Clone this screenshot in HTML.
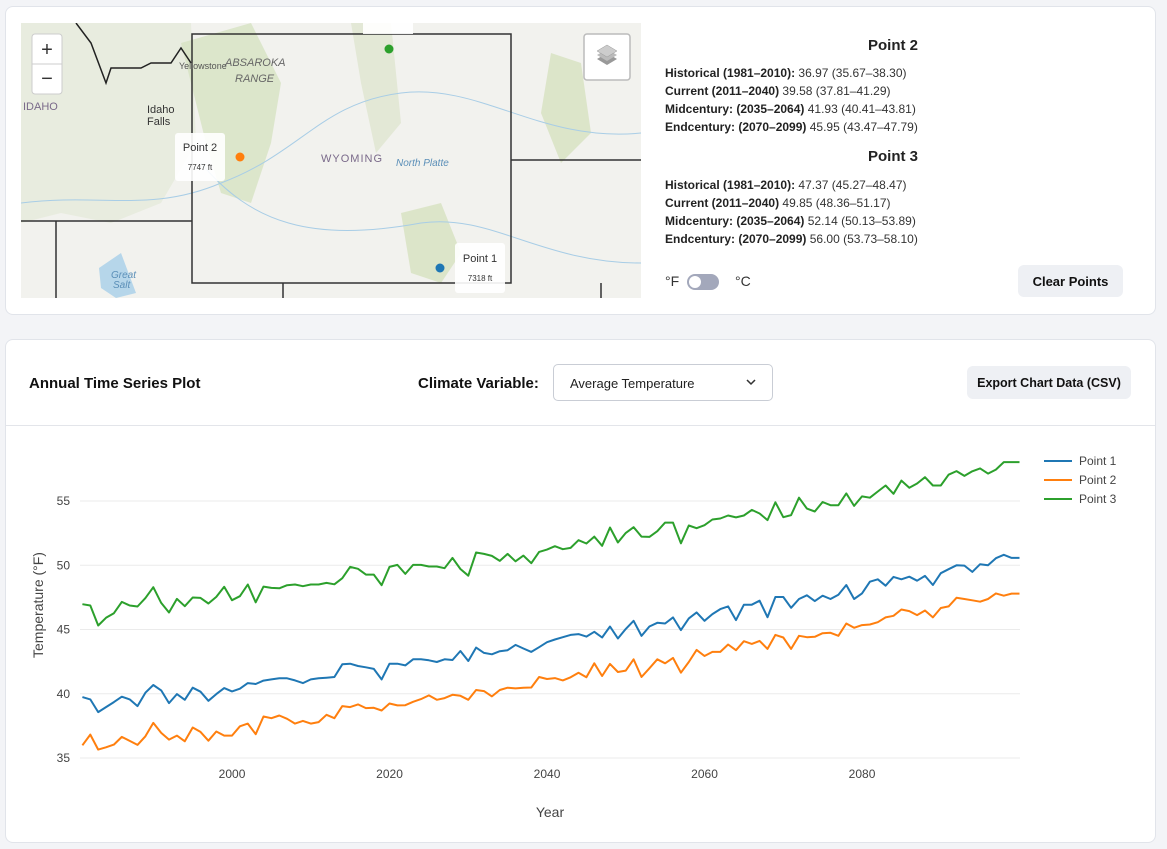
<!DOCTYPE html>
<html><head><meta charset="utf-8">
<style>
*{box-sizing:border-box;margin:0;padding:0}
body{width:1167px;height:849px;background:#f3f4f7;font-family:"Liberation Sans",sans-serif;color:#222;position:relative;overflow:hidden}
.card{position:absolute;background:#fff;border:1px solid #e1e4ea;border-radius:8px}
.abs{position:absolute}
.info{position:absolute;left:665px;font-size:12px;line-height:18px;color:#333;white-space:nowrap}
.info b{color:#222}
.ptitle{position:absolute;left:780px;width:226px;text-align:center;font-weight:bold;font-size:15px;color:#222}
.btn{position:absolute;background:#eef0f4;border-radius:6px;font-weight:bold;font-size:13px;display:flex;align-items:center;justify-content:center;color:#111}
</style></head><body>
<div class="card" style="left:5px;top:6px;width:1151px;height:309px"></div>
<svg class="abs" style="left:21px;top:23px" width="620" height="275" viewBox="0 0 620 275">
<rect width="620" height="275" fill="#f2f2ee"/>
<path d="M0,0 L170,0 L175,120 L140,180 L90,200 L40,190 L0,200Z" fill="#e4ead8" opacity="0.7"/>
<path d="M160,20 L230,0 L260,60 L250,120 L230,180 L200,170 L185,120Z" fill="#d6e2c2" opacity="0.8"/>
<path d="M330,0 L370,0 L380,100 L355,130 L340,60Z" fill="#e3e8d6"/>
<path d="M380,190 L420,180 L440,230 L420,260 L390,250Z" fill="#dce5c9"/>
<path d="M530,30 L560,40 L570,110 L540,140 L520,90Z" fill="#dce5c9"/>
<path d="M78,245 L100,230 L115,270 L95,275 L80,265Z" fill="#b6d6ea"/>
<path d="M0,180 C80,170 130,190 200,160 C280,130 300,80 380,70 C460,60 520,120 620,110" stroke="#a8cde6" fill="none" stroke-width="1"/>
<path d="M180,140 C230,200 290,220 400,200 C470,190 520,240 620,240" stroke="#a8cde6" fill="none" stroke-width="1"/>
<path d="M55,0 L70,20 L85,60 L90,45 L120,45 L130,40 L150,40 L160,25 L170,40" stroke="#222" fill="none" stroke-width="1.5"/>
<path d="M171,11 L490,11 L490,260 L171,260Z M0,198 L171,198 M35,198 L35,275 M490,137 L620,137 M262,260 L262,275 M580,260 L580,275" stroke="#333" fill="none" stroke-width="1.5"/>
<text x="2" y="87" font-size="11" fill="#7a6a8a" font-family="Liberation Sans">IDAHO</text>
<text x="126" y="90" font-size="11" fill="#333" font-family="Liberation Sans">Idaho</text>
<text x="126" y="102" font-size="11" fill="#333" font-family="Liberation Sans">Falls</text>
<text x="300" y="139" font-size="11" fill="#7a6a8a" font-family="Liberation Sans" letter-spacing="1">WYOMING</text>
<text x="158" y="46" font-size="9" fill="#555" font-family="Liberation Sans">Yellowstone</text>
<text x="204" y="43" font-size="11" fill="#666" font-style="italic" font-family="Liberation Sans">ABSAROKA</text>
<text x="214" y="59" font-size="11" fill="#666" font-style="italic" font-family="Liberation Sans">RANGE</text>
<text x="375" y="143" font-size="10" fill="#5b8fb8" font-style="italic" font-family="Liberation Sans">North Platte</text>
<text x="90" y="255" font-size="10" fill="#5b8fb8" font-style="italic" font-family="Liberation Sans">Great</text>
<text x="92" y="265" font-size="10" fill="#5b8fb8" font-style="italic" font-family="Liberation Sans">Salt</text>
<rect x="154" y="110" width="50" height="48" fill="#fff" opacity="0.9" rx="3"/>
<text x="179" y="128" font-size="11" text-anchor="middle" fill="#333" font-family="Liberation Sans">Point 2</text>
<text x="179" y="147" font-size="8" text-anchor="middle" fill="#333" font-family="Liberation Sans">7747 ft</text>
<rect x="434" y="220" width="50" height="50" fill="#fff" opacity="0.9" rx="3"/>
<text x="459" y="239" font-size="11" text-anchor="middle" fill="#333" font-family="Liberation Sans">Point 1</text>
<text x="459" y="258" font-size="8" text-anchor="middle" fill="#333" font-family="Liberation Sans">7318 ft</text>
<rect x="342" y="0" width="50" height="11" fill="#fff" opacity="0.9"/>
<circle cx="219" cy="134" r="4.5" fill="#ff7f0e"/>
<circle cx="368" cy="26" r="4.5" fill="#2ca02c"/>
<circle cx="419" cy="245" r="4.5" fill="#1f77b4"/>
<rect x="11" y="11" width="30" height="60" rx="3" fill="#fff" stroke="#ccc"/>
<line x1="11" y1="41" x2="41" y2="41" stroke="#ccc"/>
<text x="26" y="33" font-size="20" text-anchor="middle" fill="#333" font-family="Liberation Sans">+</text>
<text x="26" y="62" font-size="20" text-anchor="middle" fill="#333" font-family="Liberation Sans">−</text>
<rect x="563" y="11" width="46" height="46" rx="3" fill="#fff" stroke="#bbb" stroke-width="1.5"/>
<path d="M576,36 L586,30 L596,36 L586,42Z" fill="#999"/><path d="M576,32 L586,26 L596,32 L586,38Z" fill="#bbb"/><path d="M576,28 L586,22 L596,28 L586,34Z" fill="#ccc" stroke="#999" stroke-width="0.5"/>
</svg>

<div class="ptitle" style="top:37px">Point 2</div>
<div class="info" style="top:64px">
<div><b>Historical (1981–2010):</b> 36.97 (35.67–38.30)</div>
<div><b>Current (2011–2040)</b> 39.58 (37.81–41.29)</div>
<div><b>Midcentury: (2035–2064)</b> 41.93 (40.41–43.81)</div>
<div><b>Endcentury: (2070–2099)</b> 45.95 (43.47–47.79)</div>
</div>
<div class="ptitle" style="top:148px">Point 3</div>
<div class="info" style="top:176px">
<div><b>Historical (1981–2010):</b> 47.37 (45.27–48.47)</div>
<div><b>Current (2011–2040)</b> 49.85 (48.36–51.17)</div>
<div><b>Midcentury: (2035–2064)</b> 52.14 (50.13–53.89)</div>
<div><b>Endcentury: (2070–2099)</b> 56.00 (53.73–58.10)</div>
</div>
<div class="abs" style="left:665px;top:273px;font-size:14px;color:#333">°F</div>
<div class="abs" style="left:687px;top:274px;width:32px;height:16px;border-radius:8px;background:#a3a8bb"><div style="position:absolute;left:2px;top:2px;width:12px;height:12px;border-radius:6px;background:#fff"></div></div>
<div class="abs" style="left:735px;top:273px;font-size:14px;color:#333">°C</div>
<div class="btn" style="left:1018px;top:265px;width:105px;height:32px">Clear Points</div>

<div class="card" style="left:5px;top:339px;width:1151px;height:504px"></div>
<div class="abs" style="left:29px;top:375px;font-size:15px;font-weight:bold;color:#111">Annual Time Series Plot</div>
<div class="abs" style="left:418px;top:375px;font-size:15px;font-weight:bold;color:#111">Climate Variable:</div>
<div class="abs" style="left:553px;top:364px;width:220px;height:37px;border:1px solid #c9cdd5;border-radius:5px;font-size:13px;padding:11px 16px;color:#222">Average Temperature<svg style="position:absolute;right:16px;top:14px" width="10" height="7"><path d="M1,1 L5,5 L9,1" stroke="#333" stroke-width="1.5" fill="none"/></svg></div>
<div class="btn" style="left:967px;top:366px;width:164px;height:33px;font-size:12.5px">Export Chart Data (CSV)</div>
<div class="abs" style="left:6px;top:425px;width:1149px;height:1px;background:#e3e5ea"></div>

<svg id="chart" class="abs" style="left:0;top:430px" width="1167" height="410"></svg>
<script>
const years=[];for(let y=1981;y<=2100;y++)years.push(y);
const point1=[39.74,39.56,38.57,38.96,39.35,39.77,39.56,39.04,40.08,40.68,40.26,39.27,39.97,39.53,40.47,40.16,39.45,39.97,40.44,40.18,40.39,40.83,40.76,41.02,41.12,41.20,41.20,41.04,40.83,41.12,41.20,41.25,41.30,42.29,42.34,42.16,42.06,41.93,41.12,42.34,
42.34,42.21,42.68,42.68,42.60,42.47,42.68,42.63,43.33,42.55,43.59,43.18,43.07,43.31,43.39,43.80,43.52,43.26,43.62,44.01,44.22,44.40,44.58,44.64,44.45,44.82,44.38,45.23,44.30,45.05,45.68,44.50,45.23,45.52,45.47,45.94,44.95,45.86,46.33,45.68,
46.20,46.59,46.80,45.73,46.93,46.93,47.24,45.96,47.53,47.53,46.69,47.37,47.66,47.21,47.63,47.37,47.71,48.46,47.37,47.81,48.72,48.91,48.41,49.09,48.91,49.11,48.80,49.17,48.46,49.38,49.69,50.00,49.97,49.48,50.08,50.00,50.55,50.81,50.57,50.57];
const point2=[35.99,36.82,35.65,35.83,36.04,36.64,36.33,36.02,36.69,37.73,36.95,36.43,36.74,36.30,37.37,37.03,36.35,37.06,36.74,36.74,37.47,37.68,36.85,38.23,38.10,38.31,38.05,37.68,37.89,37.68,37.79,38.36,38.10,39.04,38.96,39.17,38.88,38.91,38.70,39.24,
39.09,39.11,39.37,39.58,39.87,39.53,39.66,39.92,39.84,39.53,40.29,40.21,39.79,40.29,40.47,40.42,40.47,40.49,41.30,41.15,41.22,41.04,41.28,41.64,41.28,42.37,41.38,42.32,41.69,41.80,42.68,41.30,41.98,42.68,42.37,42.79,41.64,42.47,43.41,42.94,
43.26,43.26,43.83,43.39,44.09,43.88,44.11,43.49,44.58,44.38,43.49,44.51,44.40,44.43,44.71,44.74,44.51,45.47,45.13,45.34,45.39,45.57,45.94,46.07,46.56,46.43,46.12,46.48,45.94,46.67,46.80,47.47,47.37,47.27,47.16,47.37,47.81,47.63,47.79,47.79];
const point3=[46.97,46.87,45.31,45.91,46.27,47.15,46.87,46.79,47.44,48.29,47.07,46.32,47.38,46.81,47.49,47.46,47.02,47.54,48.32,47.28,47.59,48.50,47.12,48.34,48.24,48.21,48.45,48.50,48.37,48.50,48.50,48.63,48.52,48.99,49.87,49.72,49.27,49.27,48.45,49.87,
50.03,49.33,50.03,50.03,49.90,49.90,49.77,50.57,49.71,49.19,50.99,50.88,50.73,50.34,50.88,50.31,50.75,50.16,51.04,51.22,51.48,51.25,51.35,51.95,51.69,52.23,51.51,52.94,51.77,52.52,52.96,52.23,52.21,52.65,53.32,53.32,51.71,53.09,52.88,53.12,
53.56,53.64,53.87,53.72,53.87,54.31,54.03,53.51,54.90,53.74,53.90,55.26,54.41,54.18,54.92,54.67,54.67,55.59,54.62,55.36,55.26,55.74,56.21,55.56,56.59,56.03,56.36,56.85,56.21,56.21,57.05,57.33,56.95,57.31,57.54,57.13,57.44,58.03,58.03,58.03];
const yTicks=[35,40,45,50,55];
const xTicks=[2000,2020,2040,2060,2080];
const seriesNames=["Point 1","Point 2","Point 3"];
const colors=["#1f77b4","#ff7f0e","#2ca02c"];
const OY=430;
function xs(y){return 82.4+(y-1981)*7.875;}
function ys(v){return 758-OY-(v-35)*12.85;}
const svg=document.getElementById('chart');
const NS="http://www.w3.org/2000/svg";
function mk(t,a){const e=document.createElementNS(NS,t);for(const k in a)e.setAttribute(k,a[k]);svg.appendChild(e);return e;}
yTicks.forEach(t=>{
 const l=mk('line',{x1:80,x2:1020,y1:ys(t),y2:ys(t),stroke:'#ebebeb','stroke-width':1});
 
 
 const tx=mk('text',{x:70,y:ys(t)+4,'text-anchor':'end','font-size':12,fill:'#444','font-family':'Liberation Sans'});
 tx.textContent=t;
 
 
});
xTicks.forEach(t=>{
 const tx=mk('text',{x:xs(t),y:778-OY,'text-anchor':'middle','font-size':12,fill:'#444','font-family':'Liberation Sans'});
 tx.textContent=t;
 
 
});
[point1,point2,point3].forEach((s,i)=>{
 const d=s.map((v,j)=>(j?'L':'M')+xs(years[j]).toFixed(1)+','+ys(v).toFixed(1)).join('');
 const p=mk('path',{d:d,fill:'none',stroke:colors[i],'stroke-width':2,'stroke-linejoin':'round'});
 
 
 const ly=461+i*19-OY;
 const l=mk('line',{x1:1044,x2:1072,y1:ly,y2:ly,stroke:colors[i],'stroke-width':2});
 
 
 const tx=mk('text',{x:1079,y:ly+4,'font-size':12,fill:'#444','font-family':'Liberation Sans'});
 tx.textContent=seriesNames[i];
 
 
});
const xt=mk('text',{x:550,y:817-OY,'text-anchor':'middle','font-size':14,fill:'#444','font-family':'Liberation Sans'});
xt.textContent='Year';


const yt=mk('text',{x:0,y:0,'text-anchor':'middle','font-size':14,fill:'#444','font-family':'Liberation Sans',transform:'translate(43,'+(605-OY)+') rotate(-90)'});
yt.textContent='Temperature (°F)';


</script>
</body></html>
